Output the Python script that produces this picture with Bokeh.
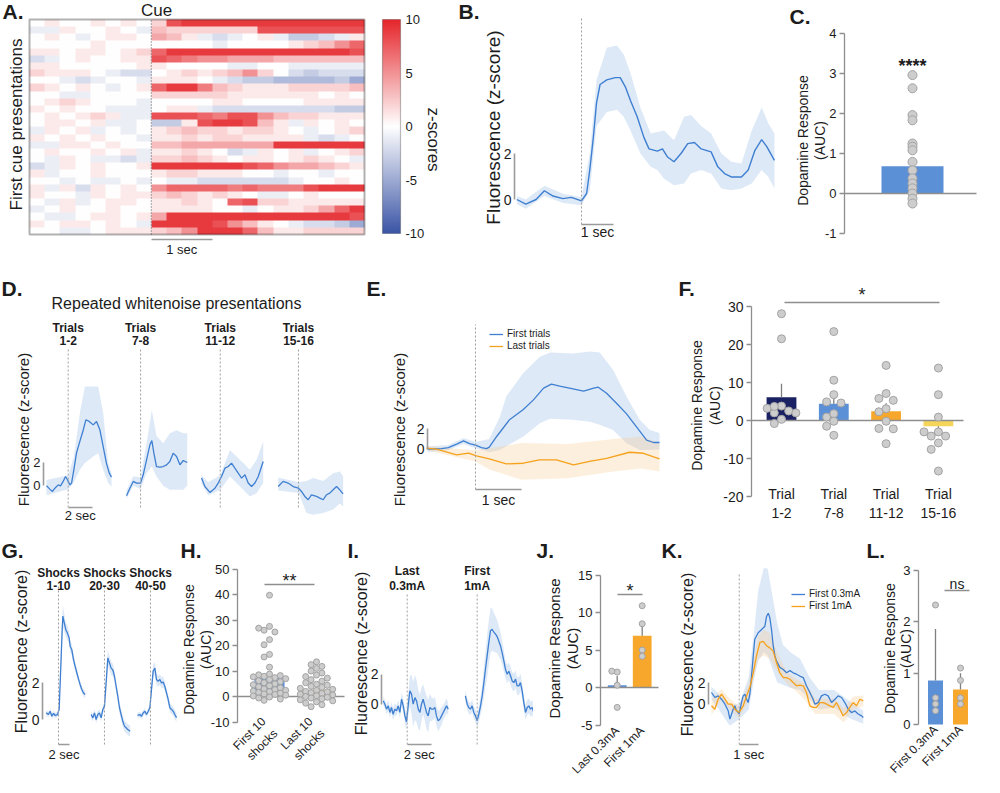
import numpy as np
from math import pi
from bokeh.plotting import figure
from bokeh.layouts import row, column
from bokeh.models import (Range1d, LinearAxis, FixedTicker, Label, Legend,
                          LegendItem, LinearColorMapper, BoxAnnotation)
from bokeh.embed import file_html
from bokeh.resources import INLINE

# ======================= DATA =======================
# A: first cue presentations, z-scores in 0.25 s bins from -2 s to 3.5 s
HEAT_T0 = -2.0
HEAT_T1 = 3.5
CUE_ZSCORES = [
    [0, 1, 0, 0, 1, 0, 1, 0, 2, 8, 9, 9, 9, 9, 9, 9, 9, 9, 9, 9, 9, 9],
    [-1, -1, 1, 0, 0, 1, 0, -1, 3, 2, 2, 2, 2, 2, 2, 8, 8, 8, 8, 8, 8, 8],
    [0, 1, 0, -1, 0, 1, 1, 0, 4, 3, 1, -1, -2, -1, 0, 1, -1, -3, -3, -2, -1, 1],
    [0, 0, 0, 0, 1, 0, 0, 0, 0, 0, 0, 0, -1, 0, 0, 0, 0, 1, 2, 3, 5, 7],
    [1, 1, 0, 1, 1, 0, 1, 2, 7, 9, 9, 9, 9, 9, 9, 9, 9, 9, 9, 9, 9, 8],
    [-2, -1, 0, 1, 0, 0, 1, 1, 8, 7, 6, 5, 5, 4, 4, 4, 3, 3, 3, 3, 3, 3],
    [1, 1, 0, 0, 0, 0, 0, 1, 1, 0, 0, 0, 0, -1, -1, 0, 0, -1, -1, -1, -1, -1],
    [2, 1, 1, 1, 0, -1, -2, -2, 0, 1, 2, 1, 2, 3, 5, 2, 0, -2, -3, -2, -2, -2],
    [0, 0, -1, -2, -1, 0, 0, -1, 1, 1, 1, 0, -1, -2, -3, -3, -4, -4, -4, -4, -3, -5],
    [2, 1, 0, 1, 0, -1, 0, 1, 7, 9, 9, 6, 3, 2, 1, 1, 1, 2, 2, 2, 2, 3],
    [0, 0, -1, -1, 0, 0, 0, 0, 2, 2, 2, 2, 2, 1, 1, 1, 1, 1, 1, 0, 1, 0],
    [0, 1, 2, 1, 0, 0, 0, -1, 0, 0, 0, 0, 1, 1, 0, 0, 0, 0, 1, 1, 1, 1],
    [1, 0, 1, 0, 0, -1, -1, -1, 0, 1, 1, -1, -2, -2, -2, -2, -2, -2, -2, -2, -3, -3],
    [0, 1, 0, 1, 2, 1, -1, -1, 8, 8, 8, 7, 6, 8, 8, 5, 3, 2, 2, 1, 1, 1],
    [0, 1, 1, 0, 1, -1, -1, 0, -3, -3, 1, 8, 9, 9, 8, 3, 1, -1, 1, 0, 1, 0],
    [-1, 1, 0, 1, -1, 0, -1, 0, 1, 2, 3, 2, 2, 1, 2, 2, 1, 0, -1, 0, 1, 2],
    [1, 0, 1, 0, 1, 0, 0, -1, 1, 1, 2, 1, 2, 2, 1, 1, 1, 1, -1, -2, -1, 0],
    [-1, -1, 1, 1, 0, 1, 0, 0, 3, 3, 4, 4, 4, 4, 4, 4, 9, 9, 9, 9, 9, 9],
    [0, 1, 0, 0, 1, 0, 1, -1, 1, 1, 2, 1, 0, -2, -1, 1, 0, 1, -1, 0, 1, 2],
    [0, -1, 1, 0, -1, -1, -2, -1, 2, 2, 3, 2, 1, 0, 1, 1, 0, 1, 2, 1, 0, -1],
    [-2, -1, 1, 0, 1, 0, 0, 1, 9, 9, 9, 9, 9, 9, 8, 7, 5, 4, 4, 3, 2, 1],
    [1, -1, 0, 0, 1, 0, 0, 0, 1, 2, 2, 1, 1, 1, 0, 0, -1, 0, 0, -1, 0, 0],
    [0, 0, -1, 0, -1, -1, 0, -1, 0, -1, -1, -2, -2, -2, -2, -2, -2, -1, 0, 0, 1, 0],
    [1, -1, 1, -2, 1, 0, 1, 0, 5, 7, 7, 7, 7, 6, 7, 6, 6, 6, 8, 9, 9, 9],
    [1, 0, 0, -1, 1, 0, 1, 1, 2, 3, 2, 1, 2, 1, 0, -1, -1, 0, 1, 0, 0, 0],
    [0, -1, 1, -1, 0, 1, 1, 0, 1, 1, 2, 1, 0, 7, 8, 2, 2, 1, 1, 1, 1, 1],
    [-1, 0, 1, 0, 0, 1, 0, 0, 1, 1, 1, 1, 0, 0, -1, 0, 1, 1, 2, 4, 7, 9],
    [0, -1, -1, 0, 1, 1, 0, 1, 4, 9, 9, 9, 9, 9, 9, 9, 9, 9, 9, 9, 9, 8],
    [1, 0, 1, 1, 0, 1, 0, -1, 9, 9, 9, 9, 8, 5, 3, 1, 0, -1, -2, -2, -3, -5],
    [0, 0, -1, -1, 0, 1, 1, 1, 2, 3, 5, 9, 9, 9, 7, 3, 1, 1, 2, 2, 2, 2],
]
COLORBAR_TICKS = [-10, -5, 0, 5, 10]

# B: mean trace (s, z) and SEM band
B_T = [-2.02, -1.74, -1.42, -1.16, -0.89, -0.58, -0.32, 0, 0.16, 0.26, 0.37, 0.47, 0.58,
       0.79, 1.05, 1.21, 1.37, 1.53, 1.74, 1.95, 2.11, 2.37, 2.53, 2.68, 2.89, 3.11, 3.32,
       3.53, 3.74, 4.05, 4.26, 4.47, 4.68, 5.0, 5.21, 5.42, 5.63, 5.79, 6.03]
B_MEAN = [0, -0.2, 0, 0.38, 0.15, 0.04, 0.09, -0.06, 0.26, 1.3, 2.7, 4.2, 5.0, 5.2, 5.3,
          5.3, 4.9, 4.3, 3.6, 2.7, 2.2, 2.1, 2.2, 1.86, 1.64, 2.0, 2.43, 2.48, 2.2, 2.07,
          1.42, 1.13, 0.98, 0.98, 1.28, 2.14, 2.6, 2.3, 1.7]
B_BAND_T = [-2.02, -1.74, -1.16, -0.58, 0, 0.26, 0.47, 0.79, 1.11, 1.32, 1.53, 1.84, 2.16,
            2.37, 2.58, 2.89, 3.21, 3.42, 3.74, 4.05, 4.37, 4.68, 5.0, 5.32, 5.63, 5.84, 6.03]
B_HI = [0.15, 0.0, 0.6, 0.25, 0.1, 2.0, 5.2, 6.6, 6.7, 6.3, 5.5, 4.0, 2.87, 2.94, 3.0, 2.58,
        3.6, 3.67, 3.2, 2.87, 2.0, 1.64, 1.57, 3.0, 4.0, 3.3, 2.87]
B_LO = [-0.2, -0.4, 0.15, -0.15, -0.25, 0.4, 3.2, 3.8, 3.9, 3.6, 3.0, 2.0, 1.42, 1.28, 0.9,
        0.62, 0.7, 1.13, 1.28, 1.13, 0.48, 0.4, 0.48, 0.7, 1.28, 0.98, 0.48]

# C: AUC per animal
C_MEAN = 0.68
C_DOTS = [2.96, 2.63, 1.96, 1.83, 1.25, 1.17, 1.08, 0.79, 0.58, 0.38, 0.25, 0.13, 0.0,
          -0.13, -0.25]

# D: repeated whitenoise presentations
D_TITLES = [("Trials", "1-2"), ("Trials", "7-8"), ("Trials", "11-12"), ("Trials", "15-16")]
D_T1 = [-1.81, -1.53, -1.31, -1.11, -0.83, -0.64, -0.42, -0.22, -0.06, 0.14, 0.28, 0.47,
        0.69, 0.97, 1.25, 1.47, 1.75, 2.08, 2.36, 2.64, 2.92, 3.19, 3.42, 3.61]
D_M1 = [0, -0.28, -0.48, -0.2, 0.08, 0, 0.37, 0.79, 0.51, 0.08, 0.23, 1.35, 2.76, 3.75, 4.7,
        5.58, 5.44, 5.15, 5.44, 4.73, 3.3, 1.9, 1.07, 0.73]
D_BT1 = [-1.81, 0, 0.47, 0.97, 1.39, 2.08, 2.5, 2.92, 3.33, 3.61]
D_HI1 = [0.5, 0.9, 2.48, 6.14, 8.39, 8.39, 8.39, 6.14, 1.92, 1.07]
D_LO1 = [-0.8, -0.3, 0.3, 1.35, 1.92, 2.48, 2.76, 1.35, 0.23, -0.06]
D_T2 = [-1.17, -0.89, -0.61, -0.33, 0, 0.22, 0.5, 0.78, 0.94, 1.11, 1.33, 1.61, 1.89, 2.17,
        2.44, 2.72, 3.0, 3.28, 3.56, 3.89]
D_M2 = [-0.85, -0.2, 0.37, 0.23, 0.23, 0.93, 2.2, 3.46, 3.83, 2.76, 1.63, 1.58, 1.63, 1.77,
        2.06, 2.76, 2.48, 1.77, 2.14, 1.97]
D_BT2 = [-1.17, -0.61, 0, 0.5, 0.94, 1.33, 1.89, 2.44, 3.0, 3.56, 3.89]
D_HI2 = [-0.4, 0.8, 0.7, 3.6, 6.4, 4.2, 3.6, 4.45, 4.7, 4.45, 4.45]
D_LO2 = [-1.1, 0.0, -0.3, 1.07, 1.63, 0.79, 0, -0.34, -0.34, -0.34, 0]
D_T3 = [-1.56, -1.28, -0.86, -0.44, -0.17, 0.11, 0.39, 0.67, 0.94, 1.22, 1.5, 1.78, 2.06,
        2.33, 2.61, 2.89, 3.17, 3.44, 3.58]
D_M3 = [0.65, -0.06, -0.56, -0.2, 0.23, 0.79, 1.49, 1.63, 1.92, 1.49, 1.07, 0.65, 0.93,
        0.23, -0.06, 0.23, 0.79, 1.63, 2.06]
D_BT3 = [-1.56, -1.0, 0, 0.81, 1.36, 1.92, 2.47, 3.03, 3.58]
D_HI3 = [0.9, 0.3, 0.9, 3.0, 2.48, 1.92, 1.35, 2.2, 3.75]
D_LO3 = [0.2, -0.8, -0.34, 0.79, 0.23, -0.34, -0.9, -0.62, 0.23]
D_T4 = [-1.69, -1.28, -0.86, -0.44, 0, 0.25, 0.53, 0.81, 1.08, 1.5, 1.78, 2.06, 2.33, 2.61,
        2.89, 3.17, 3.44, 3.72]
D_M4 = [-0.06, 0.37, 0.23, -0.06, -0.2, -0.48, -0.9, -1.18, -0.76, -0.9, -1.04, -1.18,
        -0.76, -0.62, -0.34, -0.06, -0.34, -0.68]
D_BT4 = [-1.69, 0, 0.67, 1.22, 2.06, 2.89, 3.44, 3.72]
D_HI4 = [0.7, 0.3, 0.4, 0.65, 0.4, 1.07, 1.2, 0.8]
D_LO4 = [-0.4, -0.6, -2.3, -2.45, -2.3, -2.0, -1.5, -1.75]

# E: first vs last trials
E_NAMES = ["First trials", "Last trials"]
E_T1 = [-1.04, -0.74, -0.59, -0.41, -0.26, -0.13, 0, 0.13, 0.24, 0.3, 0.46, 0.74, 1.04,
        1.26, 1.48, 1.65, 1.83, 2.04, 2.35, 2.57, 2.67, 2.85, 3.07, 3.28, 3.5, 3.72, 3.87, 4.0]
E_M1 = [0, 0.05, 0.15, 0.5, 0.82, 0.55, 0.4, 0.15, 0.05, 0.2, 1.25, 2.9, 3.9, 4.85, 6.0,
        6.4, 6.2, 6.0, 5.7, 6.0, 6.1, 5.5, 4.5, 3.5, 2.2, 0.9, 0.66, 0.66]
E_BT1 = [-1.04, -0.6, -0.26, 0, 0.3, 0.53, 0.67, 1.04, 1.4, 1.62, 2.12, 2.49, 2.7, 2.99,
         3.28, 3.57, 3.79, 4.0]
E_HI1 = [0.3, 0.4, 1.1, 0.7, 1.0, 3.2, 5.2, 7.5, 9.1, 9.5, 9.4, 9.6, 9.5, 7.8, 5.2, 2.9, 1.9, 1.6]
E_LO1 = [-0.3, -0.1, 0.5, 0.1, -0.3, -0.07, 0.3, 1.25, 2.56, 3.0, 2.9, 2.7, 2.4, 1.9, 0.6,
         -0.07, -0.07, 0.0]
E_T2 = [-1.07, -0.85, -0.41, -0.15, 0.02, 0.3, 0.67, 1.04, 1.39, 1.76, 2.13, 2.48, 2.85,
        3.35, 3.65, 4.0]
E_M2 = [0.1, 0, -0.55, -0.38, -0.65, -0.95, -1.44, -1.38, -1.05, -1.05, -1.54, -1.2, -0.9,
        -0.3, -0.4, -0.95]
E_BT2 = [-1.07, 0, 0.3, 1.0, 2.0, 3.0, 3.6, 4.0]
E_HI2 = [0.3, -0.1, 0.1, 0.6, 0.5, 1.0, 1.25, 0.6]
E_LO2 = [-0.1, -1.2, -2.0, -3.0, -2.85, -2.2, -1.9, -2.2]

# F: AUC by trial block
F_CATEGORIES = ["Trial\n1-2", "Trial\n7-8", "Trial\n11-12", "Trial\n15-16"]
F_MEANS = [6.1, 4.4, 2.45, -1.5]
F_SEM = [3.6, 2.3, 2.1, 2.6]
F_DOTS = [
    [28.1, 21.5, 3.8, 3.2, 2.0, 2.5, 2.0, 3.7, 0.3, -0.8],
    [23.4, 10.6, 6.8, 4.9, 4.6, 1.8, 0.9, -0.2, -1.5, -3.9],
    [14.5, 7.1, 5.8, 5.3, 3.1, 2.3, -0.2, -2.1, -2.2, -6.1],
    [13.8, 6.8, 0.9, -3.0, -3.0, -4.1, -4.1, -5.9, -7.6, -13.3],
]

# G: shocks
G_TITLES = [("Shocks", "1-10"), ("Shocks", "20-30"), ("Shocks", "40-50")]
G_T1 = [-2.24, -1.82, -1.52, -1.21, -0.91, -0.61, -0.18, 0.12, 0.42, 0.67, 0.79, 1.03, 1.33,
        1.64, 1.94, 2.12, 2.42, 2.73, 3.03, 3.33, 3.64, 3.94, 4.24, 4.55, 4.85]
G_M1 = [0.36, 0.27, 0.45, 0.18, 0.33, 0.22, 0.27, 0.55, 2.9, 4.9, 5.64, 5.3, 4.9, 4.7, 4.45,
        4.0, 3.8, 3.27, 2.9, 2.55, 2.2, 1.9, 1.64, 1.45, 1.36]
G_S1 = [0.15, 0.15, 0.15, 0.15, 0.15, 0.15, 0.15, 0.2, 0.5, 0.6, 0.6, 0.5, 0.4, 0.4, 0.35,
        0.3, 0.3, 0.3, 0.25, 0.25, 0.2, 0.2, 0.2, 0.2, 0.2]
G_T2 = [-2.42, -2.12, -1.82, -1.52, -1.21, -0.91, -0.61, -0.3, 0, 0.3, 0.61, 0.91, 1.21,
        1.52, 1.82, 2.12, 2.42, 2.73, 3.03, 3.33, 3.64, 3.94, 4.24, 4.67]
G_M2 = [0.27, 0.09, 0.36, 0.0, 0.27, 0.36, 0.09, 0.55, 0.73, 2.0, 3.36, 3.09, 2.8, 2.7,
        2.36, 1.8, 1.27, 0.64, 0.27, -0.1, -0.36, -0.45, -0.55, -0.64]
G_S2 = [0.2, 0.2, 0.2, 0.2, 0.2, 0.2, 0.2, 0.2, 0.25, 0.35, 0.45, 0.4, 0.35, 0.35, 0.3,
        0.3, 0.3, 0.3, 0.3, 0.3, 0.3, 0.3, 0.3, 0.3]
G_T3 = [-2.36, -1.94, -1.64, -1.33, -1.03, -0.73, -0.42, -0.12, 0.18, 0.48, 0.79, 1.09,
        1.39, 1.7, 2.0, 2.3, 2.61, 2.91, 3.21, 3.52, 3.82, 4.12, 4.42, 4.73]
G_M3 = [0.22, 0.27, 0.18, 0.36, 0.45, 0.27, 0.45, 0.64, 1.64, 2.64, 2.8, 2.18, 2.09, 2.18,
        2.0, 2.04, 1.8, 1.45, 1.1, 0.64, 0.55, 0.45, 0.27, 0.1]
G_S3 = [0.15, 0.15, 0.15, 0.15, 0.15, 0.15, 0.15, 0.2, 0.3, 0.35, 0.35, 0.3, 0.3, 0.3, 0.3,
        0.3, 0.25, 0.25, 0.25, 0.25, 0.25, 0.25, 0.25, 0.25]

# H: AUC first vs last 10 shocks
H_CATEGORIES = ["First 10\nshocks", "Last 10\nshocks"]
H_MEANS = [7.3, 2.5]
H_SEM = [2.1, 0.9]
H_FIRST = [39.7, 27.5, 26.8, 26.0, 25.3, 22.3, 20.3, 16.5, 15.5, 11.5, 8.8, 8.5, 8.2, 7.9,
           7.7, 7.4, 7.0, 6.6, 6.2, 5.8, 5.4, 5.0, 4.6, 4.2, 3.8, 3.4, 3.0, 2.7, 2.4, 2.1,
           1.9, 1.6, 1.3, 1.0, 0.8, 0.5, 0.2, -0.2, -0.6, -1.0, -1.5]
H_LAST = [13.6, 12.5, 11.8, 11.0, 10.0, 9.2, 8.4, 7.8, 7.2, 6.6, 6.0, 5.4, 4.8, 4.4, 4.0,
          3.6, 3.2, 2.8, 2.4, 2.0, 1.8, 1.5, 1.2, 0.9, 0.6, 0.3, 0.0, -0.3, -0.6, -0.9, -1.3,
          -1.7, -2.1, -2.6, -3.2, -4.0]

# I: last 0.3mA vs first 1mA traces (mean, SEM)
I_TITLES = [("Last", "0.3mA"), ("First", "1mA")]
I_T1 = [-2.0, -1.86, -1.72, -1.58, -1.44, -1.31, -1.17, -1.03, -0.89, -0.75, -0.61, -0.47,
        -0.33, -0.19, -0.06, 0.08, 0.22, 0.36, 0.5, 0.64, 0.78, 0.92, 1.06, 1.19, 1.33, 1.47,
        1.61, 1.75, 1.89, 2.03, 2.17, 2.31, 2.44, 2.58, 2.72, 2.86, 3.0, 3.14, 3.28, 3.42]
I_M1 = [0.22, 0, -0.33, -0.11, -0.55, -0.22, -0.67, -0.33, -0.44, -0.11, -0.55, 0.33, -0.11,
        -0.78, -1.18, -0.11, 0.89, 0.67, 0, 0.44, 0.22, -0.33, -0.55, 0, 0.33, -0.11, -0.55,
        -0.78, -0.22, -0.33, -0.33, -0.22, -0.78, -1.1, -1.0, -0.78, -0.55, -0.33, -0.11, -0.33]
I_S1 = [0.3, 0.3, 0.35, 0.35, 0.35, 0.35, 0.4, 0.4, 0.35, 0.35, 0.4, 0.45, 0.45, 0.5, 0.5,
        0.7, 1.0, 1.3, 1.5, 1.5, 1.4, 1.3, 1.2, 1.1, 1.0, 1.0, 1.1, 1.1, 0.9, 0.8, 0.7, 0.7,
        0.7, 0.7, 0.6, 0.6, 0.5, 0.5, 0.5, 0.4]
I_T2 = [-0.98, -0.83, -0.7, -0.56, -0.42, -0.28, -0.14, 0, 0.14, 0.28, 0.42, 0.56, 0.69,
        0.83, 0.97, 1.11, 1.25, 1.39, 1.53, 1.67, 1.81, 1.94, 2.08, 2.22, 2.36, 2.5, 2.64,
        2.78, 2.92, 3.06, 3.2, 3.33, 3.47, 3.61, 3.75, 3.89, 4.03, 4.17, 4.31, 4.44, 4.58, 4.72]
I_M2 = [0.55, 0, -0.22, -0.33, -0.11, -0.55, -0.78, -1.1, -0.67, -0.11, 0.55, 1.44, 2.33,
        3.2, 4.1, 4.9, 5.0, 4.8, 4.67, 4.5, 4.2, 3.9, 3.44, 2.9, 2.33, 2.0, 2.2, 1.9, 1.55,
        1.44, 1.67, 1.22, 1.22, 1.44, 0.89, 0.11, -0.55, -0.22, -0.11, -0.33, -0.22, -0.55]
I_S2 = [0.4, 0.4, 0.4, 0.4, 0.4, 0.4, 0.4, 0.45, 0.5, 0.6, 0.8, 1.0, 1.2, 1.4, 1.5, 1.5,
        1.4, 1.3, 1.2, 1.1, 1.0, 0.9, 0.8, 0.7, 0.6, 0.6, 0.6, 0.6, 0.6, 0.6, 0.6, 0.6, 0.6,
        0.6, 0.5, 0.5, 0.5, 0.5, 0.5, 0.5, 0.5, 0.5]

# J: AUC last 0.3mA vs first 1mA
J_CATEGORIES = ["Last 0.3mA", "First 1mA"]
J_MEANS = [0.3, 6.9]
J_SEM = [1.25, 1.6]
J_DOTS = [[2.06, 2.18, 0.3, -2.65], [10.9, 8.5, 5.0, 4.16]]

# K: first 0.3mA vs first 1mA traces
K_NAMES = ["First 0.3mA", "First 1mA"]
K_T1 = [-1.46, -1.28, -1.11, -0.93, -0.75, -0.58, -0.49, -0.4, -0.32, -0.23, -0.14, 0, 0.12,
        0.21, 0.3, 0.39, 0.47, 0.56, 0.65, 0.74, 0.82, 1.0, 1.18, 1.35, 1.44, 1.53, 1.61,
        1.7, 1.79, 1.88, 1.96, 2.14, 2.32, 2.49, 2.67, 2.84, 3.02, 3.19, 3.37, 3.54, 3.72,
        3.89, 3.98, 4.16, 4.33, 4.51, 4.68, 4.86, 5.04, 5.21, 5.39, 5.56, 5.74, 5.91, 6.09,
        6.26, 6.44, 6.53]
K_M1 = [1.08, 0.62, 0.77, 0.46, 0, -0.6, -1.38, -0.9, -0.46, -0.15, -0.6, -0.9, 0.15, 0.77,
        0.92, 0.46, 0.15, 0.92, 2.6, 4.46, 6.0, 6.6, 6.9, 7.2, 8.1, 8.4, 8.0, 6.9, 5.4, 4.46,
        4.0, 3.4, 3.2, 2.9, 3.1, 2.9, 2.77, 2.6, 2.46, 1.7, 1.08, 0.46, 0, 0.15, 0.77, 0.92,
        0.77, 0.15, 0.46, 0.77, 0.62, 0.15, -0.46, -0.77, -0.62, -0.9, -1.08, -1.23]
K_BT1 = [-1.46, -0.5, 0, 0.5, 0.8, 1.0, 1.3, 1.5, 1.7, 2.0, 2.3, 2.7, 3.2, 3.7, 4.2, 5.0,
         5.8, 6.53]
K_HI1 = [1.6, 0.0, 0.0, 2.5, 7.0, 10.5, 12.6, 12.5, 10.5, 7.5, 5.5, 4.8, 4.2, 2.5, 1.3, 1.3,
         0.3, -0.6]
K_LO1 = [0.5, -2.0, -1.4, -0.5, 2.5, 4.0, 4.8, 4.5, 3.5, 2.0, 1.8, 1.5, 1.3, 0.5, -0.5, -0.3,
         -1.3, -1.8]
K_T2 = [-1.46, -1.28, -1.11, -0.93, -0.75, -0.58, -0.4, -0.23, 0, 0.21, 0.39, 0.56, 0.74,
        0.91, 1.09, 1.26, 1.44, 1.61, 1.79, 1.96, 2.14, 2.32, 2.49, 2.67, 2.84, 3.02, 3.19,
        3.37, 3.54, 3.72, 3.89, 4.07, 4.25, 4.42, 4.6, 4.77, 4.95, 5.12, 5.3, 5.47, 5.65,
        5.82, 6.0, 6.18, 6.35, 6.53]
K_M2 = [-0.15, -0.46, 0.46, 0.92, 0.46, 0, 0, -0.46, -0.77, -0.15, 0.77, 1.54, 2.9, 4.46,
        5.7, 5.8, 5.4, 5.2, 4.9, 3.85, 2.9, 2.46, 2.46, 2.3, 2.0, 1.7, 1.77, 1.7, 1.08, -0.15,
        -0.3, -0.3, 0.15, 0.15, 0, -0.15, -0.3, 0.15, -0.46, -1.08, -0.77, -0.3, 0.15, -0.15,
        0.46, 0.3]
K_BT2 = [-1.46, -0.93, -0.5, 0, 0.5, 1.0, 1.3, 1.6, 2.0, 2.5, 3.0, 3.5, 4.0, 5.0, 5.5, 6.0, 6.53]
K_HI2 = [0.4, 1.4, 0.5, -0.2, 1.9, 6.3, 6.9, 6.6, 4.8, 3.0, 2.3, 1.9, 0.5, 0.5, -0.4, 0.7, 0.8]
K_LO2 = [-1.0, 0.4, -0.5, -1.3, 0.4, 4.2, 4.5, 4.2, 3.0, 1.9, 1.2, 0.3, -0.9, -0.9, -1.7,
         -0.5, -0.2]

# L: AUC first 0.3mA vs first 1mA
L_CATEGORIES = ["First 0.3mA", "First 1mA"]
L_MEANS = [0.86, 0.68]
L_SEM = [1.0, 0.32]
L_DOTS = [[2.33, 0.52, 0.4, 0.27], [1.1, 0.86, 0.52, 0.4]]

# ======================= STYLE =======================
FONT = "Liberation Sans"
INK = "#1c1c1c"
GREY = "#8e8e8e"
SCALE = "#9b9b9b"
CUE_GREY = "#a0a0a0"
BLUE = "#3f7fd1"
BLUE_FILL = "#a9c8ec"
ORANGE = "#f5a11c"
ORANGE_FILL = "#f9c98f"
BAR_BLUE = "#5b8fd6"
NAVY = "#1b2263"
BAR_ORANGE = "#f7a72b"
YELLOW = "#f5d45a"
DOT_FILL = "#cdcdcd"
DOT_LINE = "#a3a3a3"
ERR = "#7f7f7f"

# layout: cue times of the side-by-side mini traces on a shared time axis (s)
D_OFFSETS = [0.0, 6.03, 12.67, 19.19]
G_OFFSETS = [0.0, 8.36, 16.73]
I_OFFSETS = [0.0, 5.83]


def hex2rgb(h):
    return tuple(int(h[i:i + 2], 16) for i in (1, 3, 5))


def mix(c1, c2, f):
    a, b = hex2rgb(c1), hex2rgb(c2)
    return "#%02x%02x%02x" % tuple(int(round(a[i] + (b[i] - a[i]) * f)) for i in range(3))


PALETTE = []
for _i in range(256):
    _f = _i / 255.0
    if _f < 0.5:
        PALETTE.append(mix("#3b55a6", "#ffffff", _f / 0.5))
    else:
        PALETTE.append(mix("#ffffff", "#e5262b", (_f - 0.5) / 0.5))


class Panel:
    """A figure whose frame fills it; maps data <-> page pixels (RL, RT = page offset)."""

    def __init__(self, RL, RT, W, H, x0, rx0, sx, y0, ry0, sy):
        self.RL, self.RT, self.W, self.H = RL, RT, W, H
        self.x0, self.rx0, self.sx = x0, rx0, sx
        self.y0, self.ry0, self.sy = y0, ry0, sy
        p = figure(width=W, height=H, min_border=0,
                   x_range=Range1d(self.dx(RL), self.dx(RL + W)),
                   y_range=Range1d(self.dy(RT + H), self.dy(RT)),
                   x_axis_location=None, y_axis_location=None,
                   output_backend="svg", toolbar_location=None)
        p.xgrid.visible = False
        p.ygrid.visible = False
        p.outline_line_color = None
        p.border_fill_color = "white"
        p.background_fill_color = "white"
        self.p = p

    def dx(self, rx):
        return self.x0 + (rx - self.rx0) / self.sx

    def dy(self, ry):
        return self.y0 + (self.ry0 - ry) / self.sy

    def rx(self, x):
        return self.rx0 + (x - self.x0) * self.sx

    def text(self, rx, ry, s, size, bold=False, angle=0.0, align="center",
             baseline="middle", color=INK):
        self.p.add_layout(Label(x=rx - self.RL, y=self.RT + self.H - ry, x_units="screen",
                                y_units="screen", text=s, angle=angle, text_font=FONT,
                                text_font_size=f"{size}px",
                                text_font_style="bold" if bold else "normal",
                                text_align=align, text_baseline=baseline, text_color=color))

    def letter(self, rx, ry, s):
        self.text(rx, ry, s, 21, bold=True, align="left")

    def vlabel(self, rx, ry, s, size):
        self.text(rx, ry, s, size, angle=pi / 2)

    def dop_label(self, rx1, rx2, ry, size=14):
        self.vlabel(rx1, ry, "Dopamine Response", size)
        self.vlabel(rx2, ry, "(AUC)", size)

    def band(self, t, lo, hi, color, off=0.0, alpha=0.4):
        self.p.varea(x=[v + off for v in t], y1=lo, y2=hi, fill_color=color,
                     fill_alpha=alpha)

    def sem_band(self, t, m, s, color, off=0.0):
        self.band(t, [a - b for a, b in zip(m, s)], [a + b for a, b in zip(m, s)], color, off)

    def trace(self, t, m, color, off=0.0, lw=1.3):
        return self.p.line([v + off for v in t], m, line_color=color, line_width=lw)

    def cue(self, loc, ry_bottom, ry_top):
        self.p.segment(x0=[loc], y0=[self.dy(ry_bottom)], x1=[loc], y1=[self.dy(ry_top)],
                       line_color=CUE_GREY, line_dash="2 2", line_width=1)

    def scale_bars(self, rx_axis, ry_axis, xlen, size):
        ya = LinearAxis(ticker=FixedTicker(ticks=[0, 2]), bounds=(0, 2),
                        fixed_location=self.dx(rx_axis), axis_line_color=SCALE,
                        axis_line_width=1.6, major_tick_line_color=None, major_tick_out=0,
                        major_tick_in=0, minor_tick_line_color=None, major_label_standoff=3,
                        major_label_text_font=FONT, major_label_text_font_size=f"{size}px",
                        major_label_text_color=INK)
        self.p.add_layout(ya, "left")
        xa = LinearAxis(ticker=FixedTicker(ticks=[]), bounds=(0, xlen),
                        fixed_location=self.dy(ry_axis), axis_line_color=SCALE,
                        axis_line_width=1.6, major_tick_line_color=None, major_tick_out=0,
                        major_tick_in=0, minor_tick_line_color=None,
                        major_label_text_font_size="0px")
        self.p.add_layout(xa, "below")

    def bar_yaxis(self, rx_axis, ticks, size=13):
        ax = LinearAxis(ticker=FixedTicker(ticks=ticks), bounds=(ticks[0], ticks[-1]),
                        fixed_location=self.dx(rx_axis), axis_line_color=GREY,
                        axis_line_width=1.3, major_tick_line_color=GREY,
                        major_tick_line_width=1.3, major_tick_out=5, major_tick_in=0,
                        minor_tick_line_color=None, major_label_standoff=3,
                        major_label_overrides={t: str(t) for t in ticks},
                        major_label_text_font=FONT, major_label_text_font_size=f"{size}px",
                        major_label_text_color=INK)
        self.p.add_layout(ax, "left")

    def cat_xaxis(self, ry_axis, labels, size=13, orient="horizontal", standoff=2):
        ax = LinearAxis(ticker=FixedTicker(ticks=list(range(len(labels)))),
                        fixed_location=self.dy(ry_axis),
                        major_label_overrides={i: lab for i, lab in enumerate(labels)},
                        axis_line_color=None, major_tick_line_color=None, major_tick_out=0,
                        major_tick_in=0, minor_tick_line_color=None,
                        major_label_orientation=orient, major_label_standoff=standoff,
                        major_label_text_font=FONT, major_label_text_font_size=f"{size}px",
                        major_label_text_color=INK)
        self.p.add_layout(ax, "below")

    def baseline(self, rx_left, rx_right):
        self.p.segment(x0=[self.dx(rx_left)], y0=[0], x1=[self.dx(rx_right)], y1=[0],
                       line_color=GREY, line_width=1.3)

    def bars(self, means, sems, colors, width):
        xs = list(range(len(means)))
        self.p.vbar(x=xs, top=means, bottom=0, width=width, fill_color=colors, line_color=None)
        ends = [m + s if m >= 0 else m - s for m, s in zip(means, sems)]
        self.p.segment(x0=xs, y0=means, x1=xs, y1=ends, line_color=ERR, line_width=1.3)

    def dots(self, groups, size, max_steps):
        for i, vals in enumerate(groups):
            xs = swarm(vals, i, size, self.sx, self.sy, max_steps)
            self.p.scatter(xs, vals, size=size, fill_color=DOT_FILL, line_color=DOT_LINE,
                           line_width=1)

    def sig(self, rx0, rx1, ry_line, ry_text, s, size):
        y = self.dy(ry_line)
        self.p.segment(x0=[self.dx(rx0)], y0=[y], x1=[self.dx(rx1)], y1=[y],
                       line_color=GREY, line_width=1.3)
        self.text((rx0 + rx1) / 2, ry_text, s, size)

    def legend(self, renderers, names, loc):
        items = [LegendItem(label=n, renderers=[r]) for n, r in zip(names, renderers)]
        self.p.add_layout(Legend(items=items, location=loc, label_text_font=FONT,
                                 label_text_font_size="10px", label_text_color=INK,
                                 glyph_width=14, glyph_height=10, label_height=10,
                                 label_standoff=4, spacing=1, padding=0, margin=0,
                                 border_line_color=None, background_fill_alpha=0))


def swarm(vals, center, dot, xpx, ypx, max_steps):
    placed, xs = [], []
    cands = [0]
    for k in range(1, max_steps + 1):
        cands += [-k, k]
    for v in vals:
        best, best_d = None, -1
        for c in cands:
            off = c * dot * 0.9
            d = min([((off - po) ** 2 + ((v - pv) * ypx) ** 2) ** 0.5 for po, pv in placed]
                    or [1e9])
            if d >= dot * 0.95:
                best = off
                break
            if d > best_d:
                best, best_d = off, d
        placed.append((best, v))
        xs.append(center + best / xpx)
    return xs


# ======================= ROW 1 (page y 4..262) =======================
nrows = len(CUE_ZSCORES)
A = Panel(4, 4, 368, 258, HEAT_T0, 33, 335 / (HEAT_T1 - HEAT_T0), nrows, 23, 215 / nrows)
mapper = LinearColorMapper(palette=PALETTE, low=COLORBAR_TICKS[0], high=COLORBAR_TICKS[-1])
zimg = np.array(CUE_ZSCORES, dtype=float)[::-1]
A.p.image(image=[zimg], x=HEAT_T0, y=0, dw=HEAT_T1 - HEAT_T0, dh=nrows, color_mapper=mapper)
A.p.segment(x0=[0], y0=[0], x1=[0], y1=[nrows], line_color="#6a6a6a", line_dash="1 2",
            line_width=1.2)
A.p.add_layout(BoxAnnotation(left=HEAT_T0, right=HEAT_T1, bottom=0, top=nrows, fill_alpha=0,
                             line_color="black", line_width=2))
A.p.add_layout(LinearAxis(ticker=FixedTicker(ticks=[]), bounds=(0, 1),
                          fixed_location=A.dy(243), axis_line_color=SCALE,
                          axis_line_width=1.6, major_tick_line_color=None, major_tick_out=0,
                          minor_tick_line_color=None, major_label_text_font_size="0px"),
               "below")
A.letter(6, 15, "A.")
A.text(160, 14, "Cue", 17)
A.vlabel(20, 128, "First cue presentations", 17)
A.text(A.rx(0.5), 253, "1 sec", 13)

CB = Panel(372, 4, 83, 258, 0, 386, 18, COLORBAR_TICKS[-1], 23,
           214 / (COLORBAR_TICKS[-1] - COLORBAR_TICKS[0]))
levels = np.linspace(COLORBAR_TICKS[0], COLORBAR_TICKS[-1], 256).reshape(256, 1)
CB.p.image(image=[levels], x=0, y=COLORBAR_TICKS[0], dw=1,
           dh=COLORBAR_TICKS[-1] - COLORBAR_TICKS[0], color_mapper=mapper)
CB.p.add_layout(BoxAnnotation(left=0, right=1, bottom=COLORBAR_TICKS[0],
                              top=COLORBAR_TICKS[-1], fill_alpha=0, line_color="#222222",
                              line_width=1.2))
CB.p.add_layout(LinearAxis(ticker=FixedTicker(ticks=COLORBAR_TICKS), fixed_location=1,
                           axis_line_color=None, major_tick_line_color=None, major_tick_out=0,
                           major_tick_in=0, minor_tick_line_color=None,
                           major_label_standoff=5,
                           major_label_overrides={t: str(t) for t in COLORBAR_TICKS},
                           major_label_text_font=FONT, major_label_text_font_size="13px",
                           major_label_text_color=INK), "right")
CB.text(437, 143, "z-scores", 17, angle=-pi / 2)

B = Panel(455, 4, 327, 258, 0, 585, 32, 0, 203, 23)
B.band(B_BAND_T, B_LO, B_HI, BLUE_FILL)
B.trace(B_T, B_MEAN, BLUE, lw=1.4)
B.cue(0, 228, 22)
B.scale_bars(518, 228, 1, 14)
B.letter(462, 15, "B.")
B.vlabel(497, 131, "Fluorescence (z-score)", 19)
B.text(B.rx(0.5), 235, "1 sec", 14)

C = Panel(782, 4, 206, 258, 0, 916, 62, 0, 197, 40)
C.p.vbar(x=[0], top=[C_MEAN], bottom=0, width=1.0, fill_color=BAR_BLUE, line_color=None)
C.baseline(848, 980)
C.p.scatter([0] * len(C_DOTS), C_DOTS, size=9, fill_color=DOT_FILL, line_color=DOT_LINE,
            line_width=1)
C.bar_yaxis(848, [-1, 0, 1, 2, 3, 4])
C.text(916, 69, "****", 18, bold=True)
C.letter(793, 20, "C.")
C.dop_label(806, 823, 144)

# ======================= ROW 2 (page y 262..536) =======================
D = Panel(4, 262, 358, 274, 0, 71.7, 12, 0, 489.3, 11.83)
D_SERIES = [(D_T1, D_M1, D_BT1, D_LO1, D_HI1), (D_T2, D_M2, D_BT2, D_LO2, D_HI2),
            (D_T3, D_M3, D_BT3, D_LO3, D_HI3), (D_T4, D_M4, D_BT4, D_LO4, D_HI4)]
for k, (t, m, bt, lo, hi) in enumerate(D_SERIES):
    off = D_OFFSETS[k]
    D.band(bt, lo, hi, BLUE_FILL, off)
    D.trace(t, m, BLUE, off)
    D.cue(off, 511, 352)
    D.text(D.rx(off), 331, D_TITLES[k][0], 12, bold=True)
    D.text(D.rx(off), 344, D_TITLES[k][1], 12, bold=True)
D.scale_bars(47, 511, 2, 13)
D.letter(5, 292, "D.")
D.text(180, 307, "Repeated whitenoise presentations", 16)
D.vlabel(27, 433, "Fluorescence (z-score)", 15)
D.text(D.rx(1), 519, "2 sec", 13)

E = Panel(362, 262, 314, 274, 0, 479, 46, 0, 452.7, 10.17)
E.band(E_BT1, E_LO1, E_HI1, BLUE_FILL)
E.band(E_BT2, E_LO2, E_HI2, ORANGE_FILL, alpha=0.3)
rE1 = E.trace(E_T1, E_M1, BLUE)
rE2 = E.trace(E_T2, E_M2, ORANGE)
E.cue(0, 493, 328)
E.scale_bars(431, 493, 1, 14)
E.legend([rE1, rE2], E_NAMES, (131, 181))
E.letter(370, 292, "E.")
E.vlabel(403, 433, "Fluorescence (z-score)", 15)
E.text(E.rx(0.5), 503, "1 sec", 14)

F = Panel(676, 262, 312, 274, 0, 785, 52.3, 0, 424, 3.8)
F.bars(F_MEANS, F_SEM, [NAVY, BAR_BLUE, BAR_ORANGE, YELLOW], 0.57)
F.baseline(755, 967)
F.dots(F_DOTS, 8, 2)
F.bar_yaxis(755, [-20, -10, 0, 10, 20, 30], 14)
F.cat_xaxis(489, F_CATEGORIES, 14, standoff=0)
F.sig(788, 943, 306, 298, "*", 18)
F.letter(682, 292, "F.")
F.dop_label(700, 718, 409)

# ======================= ROW 3 (page y 540..785) =======================
G = Panel(4, 540, 178, 245, 0, 62, 5.5, 0, 727, 18.33)
for k, (t, m, s) in enumerate([(G_T1, G_M1, G_S1), (G_T2, G_M2, G_S2), (G_T3, G_M3, G_S3)]):
    off = G_OFFSETS[k]
    G.sem_band(t, m, s, BLUE_FILL, off)
    G.trace(t, m, BLUE, off)
    G.cue(off, 752, 593)
    G.text(G.rx(off), 580, G_TITLES[k][0], 12, bold=True)
    G.text(G.rx(off), 593, G_TITLES[k][1], 12, bold=True)
G.scale_bars(46, 752, 2, 14)
G.letter(5, 558, "G.")
G.vlabel(25, 659, "Fluorescence (z-score)", 16)
G.text(G.rx(1), 762, "2 sec", 13)

H = Panel(182, 540, 167, 245, 0, 273, 47, 0, 704, 2.55)
H.bars(H_MEANS, H_SEM, [BAR_BLUE, BAR_ORANGE], 0.64)
H.baseline(241, 348)
H.dots([H_FIRST, H_LAST], 6, 3)
H.bar_yaxis(241, [-10, 0, 10, 20, 30, 40, 50])
H.cat_xaxis(731, H_CATEGORIES, 12, orient=pi / 4, standoff=2)
H.sig(268, 318, 592, 588, "**", 18)
H.letter(184, 558, "H.")
H.dop_label(192, 209, 657)

I = Panel(349, 540, 188, 245, 0, 410.7, 12, 0, 711.7, 15)
for k, (t, m, s) in enumerate([(I_T1, I_M1, I_S1), (I_T2, I_M2, I_S2)]):
    off = I_OFFSETS[k]
    I.sem_band(t, m, s, BLUE_FILL, off)
    I.trace(t, m, BLUE, off)
    I.cue(off, 752, 602)
    I.text(I.rx(off), 578, I_TITLES[k][0], 12, bold=True)
    I.text(I.rx(off), 593, I_TITLES[k][1], 12, bold=True)
I.scale_bars(385, 752, 2, 14)
I.letter(351, 558, "I.")
I.vlabel(365, 661, "Fluorescence (z-score)", 16)
I.text(I.rx(1), 762, "2 sec", 13)

J = Panel(537, 540, 126, 245, 0, 620.7, 25, 0, 695, 7.5)
J.bars(J_MEANS, J_SEM, [BAR_BLUE, BAR_ORANGE], 0.75)
J.baseline(604, 662)
J.dots(J_DOTS, 6, 1)
J.bar_yaxis(604, [-5, 0, 5, 10, 15])
J.cat_xaxis(734, J_CATEGORIES, 12, orient=pi / 4, standoff=2)
J.sig(621, 646, 602, 598, "*", 18)
J.letter(540, 558, "J.")
J.dop_label(558, 576, 656, 15)

K = Panel(663, 540, 205, 245, 0, 742.7, 19, 0, 711.7, 10.83)
K.band(K_BT1, K_LO1, K_HI1, BLUE_FILL)
K.band(K_BT2, K_LO2, K_HI2, ORANGE_FILL, alpha=0.3)
rK1 = K.trace(K_T1, K_M1, BLUE)
rK2 = K.trace(K_T2, K_M2, ORANGE)
K.cue(0, 752, 582)
K.scale_bars(712, 752, 1, 14)
K.legend([rK1, rK2], K_NAMES, (132, 166))
K.letter(665, 558, "K.")
K.vlabel(691, 662, "Fluorescence (z-score)", 16)
K.text(K.rx(0.5), 762, "1 sec", 13)

L = Panel(868, 540, 120, 245, 0, 939, 25, 0, 732, 51.3)
L.bars(L_MEANS, L_SEM, [BAR_BLUE, BAR_ORANGE], 0.6)
L.dots(L_DOTS, 6, 1)
L.bar_yaxis(922, [0, 1, 2, 3])
L.cat_xaxis(733, L_CATEGORIES, 12, orient=pi / 4, standoff=2)
L.sig(948, 973, 598, 591, "ns", 14)
L.letter(870, 558, "L.")
L.dop_label(893, 909, 656)

layout = column(row(A.p, CB.p, B.p, C.p), row(D.p, E.p, F.p),
                row(G.p, H.p, I.p, J.p, K.p, L.p))
open("out.html", "w").write(file_html(layout, INLINE))
